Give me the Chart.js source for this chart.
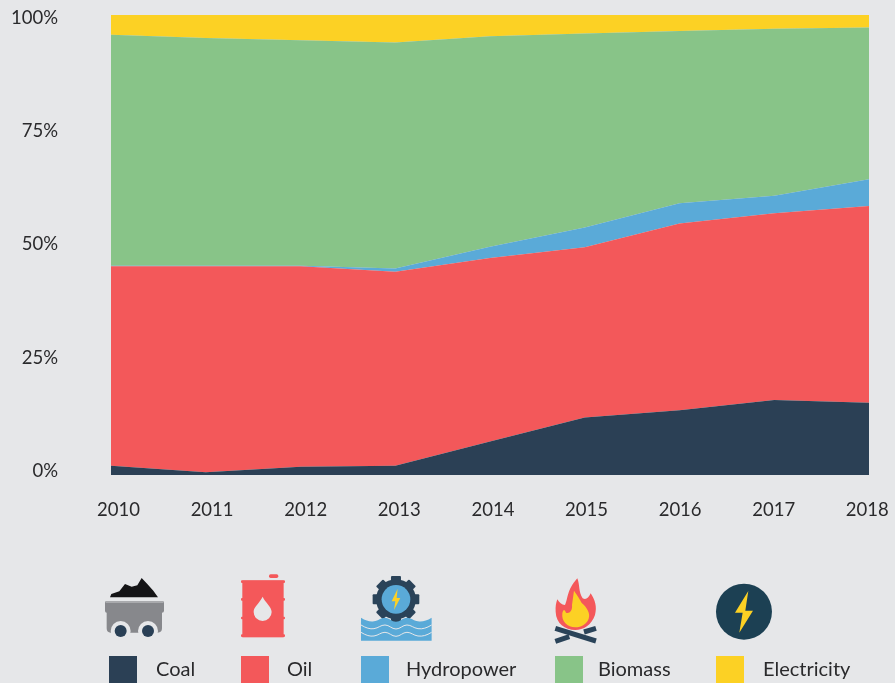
<!DOCTYPE html>
<html><head><meta charset="utf-8">
<script src="https://cdn.jsdelivr.net/npm/chart.js@4"></script>
<style>
html,body{margin:0;padding:0;background:#e6e7e9;overflow:hidden}
#wrap{position:relative;width:895px;height:683px;overflow:hidden}
canvas{position:absolute;left:0;top:0}
#icons{position:absolute;left:0;top:0}
.sw{position:absolute;top:656px;width:28px;height:27px}
.lb{position:absolute;top:655px;font:20px Lato,sans-serif;line-height:26px;color:#2a2a2c;white-space:nowrap}
</style></head><body>
<div id="wrap">
<canvas id="c" width="895" height="683"></canvas>
<svg id="icons" width="895" height="683" viewBox="0 0 895 683">
 <g transform="translate(90,570) scale(0.3333)">
  <path d="M60,82 L64,72 L88,64 L105,42 L125,50 L142,46 L155,24 L172,42 L190,62 L204,82 Z" fill="#141416"/>
  <path d="M50,93 H217 Q222,93 222,98 V122 Q222,128 216,128 V175 Q216,188 203,188 H62 Q50,188 50,175 V128 Q45,128 45,122 V98 Q45,93 50,93 Z" fill="#87888c"/>
  <rect x="47" y="93" width="173" height="6" fill="#a9aaad"/>
  <circle cx="92" cy="183" r="30" fill="#e6e7e9"/><circle cx="174" cy="183" r="30" fill="#e6e7e9"/>
  <rect x="50" y="190" width="170" height="20" fill="#e6e7e9"/>
  <circle cx="92" cy="183" r="18" fill="#2a4056"/><circle cx="174" cy="183" r="18" fill="#2a4056"/>
 </g>
 <g transform="translate(90,570) scale(0.3333)" fill="#f4585a">
  <rect x="537" y="13" width="28" height="11" rx="5"/>
  <rect x="457" y="32" width="124" height="170"/>
  <rect x="453" y="31" width="132" height="8" rx="3"/>
  <rect x="453" y="84" width="132" height="8" rx="3"/>
  <rect x="453" y="140" width="132" height="8" rx="3"/>
  <rect x="453" y="193" width="132" height="8" rx="3"/>
  <path d="M518,80 C526,98 545,110 545,126 A27,27 0 0 1 491,126 C491,110 510,98 518,80 Z" fill="#e6e7e9"/>
 </g>
 <g transform="translate(90,570) scale(0.3333)">
  <g fill="#2a4359">
   <circle cx="918" cy="88" r="60"/>
   <rect x="903" y="18" width="30" height="26" rx="3" transform="rotate(0 918 88)"/>
   <rect x="903" y="18" width="30" height="26" rx="3" transform="rotate(45 918 88)"/>
   <rect x="903" y="18" width="30" height="26" rx="3" transform="rotate(90 918 88)"/>
   <rect x="903" y="18" width="30" height="26" rx="3" transform="rotate(135 918 88)"/>
   <rect x="903" y="18" width="30" height="26" rx="3" transform="rotate(180 918 88)"/>
   <rect x="903" y="18" width="30" height="26" rx="3" transform="rotate(225 918 88)"/>
   <rect x="903" y="18" width="30" height="26" rx="3" transform="rotate(270 918 88)"/>
   <rect x="903" y="18" width="30" height="26" rx="3" transform="rotate(315 918 88)"/>
  </g>
  <circle cx="918" cy="88" r="43" fill="#5aaad8"/>
  <path d="M923,56 L905,94 L916,94 L912,120 L931,84 L920,84 Z" fill="#fcd124"/>
  <path d="M813,143 C828,152 840,156 852,154 C866,152 872,143 885,143 C898,143 905,155 918,155 C931,155 938,143 951,143 C964,143 970,152 984,154 C998,156 1010,152 1025,143 V212 H813 Z" fill="#5aaad8"/>
  <path d="M813,165 C828,174 840,178 852,176 C866,174 872,165 885,165 C898,165 905,177 918,177 C931,177 938,165 951,165 C964,165 970,174 984,176 C998,178 1010,174 1025,165 M813,187 C828,196 840,200 852,198 C866,196 872,187 885,187 C898,187 905,199 918,199 C931,199 938,187 951,187 C964,187 970,196 984,198 C998,200 1010,196 1025,187" fill="none" stroke="#e6e7e9" stroke-width="3"/>
 </g>
 <g transform="translate(470,570) scale(0.3333)">
  <path d="M322,25 C330,45 325,65 338,85 C348,90 355,85 362,70 C375,90 382,110 375,135 C365,165 340,180 316,180 C285,180 258,160 257,125 C256,110 258,98 262,88 C268,98 275,105 285,105 C295,85 290,60 322,25 Z" fill="#f4585a"/>
  <path d="M312,62 C325,80 330,90 336,100 C350,112 362,130 356,146 C350,162 335,172 316,172 C292,172 274,155 277,130 C279,120 283,114 288,128 C298,132 308,122 306,105 Z" fill="#fcd124"/>
  <path d="M256,175 L378,213" stroke="#2a4359" stroke-width="15" fill="none"/>
  <path d="M378,175 L342,186 M298,200 L256,214" stroke="#2a4359" stroke-width="15" fill="none"/>
  <circle cx="822" cy="125" r="84" fill="#1c4053"/>
  <path d="M835,63 L795,128 L818,128 L808,188 L849,122 L826,122 Z" fill="#fcd124"/>
 </g>
</svg>
<div id="legend"></div>
</div>
<script>
const years = [2010,2011,2012,2013,2014,2015,2016,2017,2018];
const yTicks = [0,25,50,75,100];
const coal = [2.0,0.6,1.8,2.0,7.3,12.5,14.1,16.3,15.7];
const oil = [43.4,44.8,43.6,42.2,39.9,37.0,40.6,40.6,42.8];
const hydropower = [0.1,0.1,0.1,0.7,2.4,4.3,4.4,3.8,5.8];
const biomass = [50.2,49.5,49.0,49.1,45.8,42.2,37.4,36.3,33.0];
const electricity = [4.3,5.0,5.5,6.0,4.6,4.0,3.5,3.0,2.7];
const seriesNames = ["Coal","Oil","Hydropower","Biomass","Electricity"];
const seriesColors = ["#2b4055","#f3585a","#5aaad8","#88c488","#fcd124"];
const seriesValues = [coal,oil,hydropower,biomass,electricity];
const swatchX = [109,241,361,555,716];
const labelX = [156,287,406,598,763];

const legend = document.getElementById('legend');
seriesNames.forEach((n,i)=>{
  const s=document.createElement('div');s.className='sw';s.style.left=swatchX[i]+'px';s.style.background=seriesColors[i];legend.appendChild(s);
  const l=document.createElement('div');l.className='lb';l.style.left=labelX[i]+'px';l.textContent=n;legend.appendChild(l);
});

const noPad = s=>{s.paddingTop=0;s.paddingBottom=0;s.paddingLeft=0;s.paddingRight=0;};
const tickFont = {family:'Lato, sans-serif', size:18.5};
new Chart(document.getElementById('c'),{
  type:'line',
  data:{
    labels:years.map(String),
    datasets:seriesNames.map((n,i)=>({
      label:n,data:seriesValues[i],
      backgroundColor:seriesColors[i],borderColor:seriesColors[i],borderWidth:0,
      pointRadius:0,tension:0,fill:i===0?'origin':'-1'
    }))
  },
  options:{
    responsive:false,animation:false,
    layout:{padding:{top:15,right:26,left:0,bottom:0}},
    plugins:{legend:{display:false},tooltip:{enabled:false},title:{display:false}},
    scales:{
      x:{type:'category',display:false,offset:false},
      y:{display:false,stacked:true,min:0,max:100},
      yLabels:{
        type:'linear',position:'left',min:-0.883,max:100.66,
        grid:{display:false},border:{display:false},
        afterBuildTicks:s=>{s.ticks=yTicks.map(v=>({value:v}));},
        afterFit:s=>{s.width=111;noPad(s);},
        ticks:{font:tickFont,color:'#2a2a2c',padding:45,callback:v=>v+'%'}
      },
      xLabels:{
        type:'linear',position:'bottom',min:2010-0.0801,max:2018+0.018,
        grid:{display:false},border:{display:false},
        afterBuildTicks:s=>{s.ticks=years.map(v=>({value:v}));},
        afterFit:s=>{s.height=208;noPad(s);},
        ticks:{font:tickFont,color:'#2a2a2c',padding:16,maxRotation:0,autoSkip:false,callback:v=>String(v)}
      }
    }
  }
});
</script>
</body></html>
